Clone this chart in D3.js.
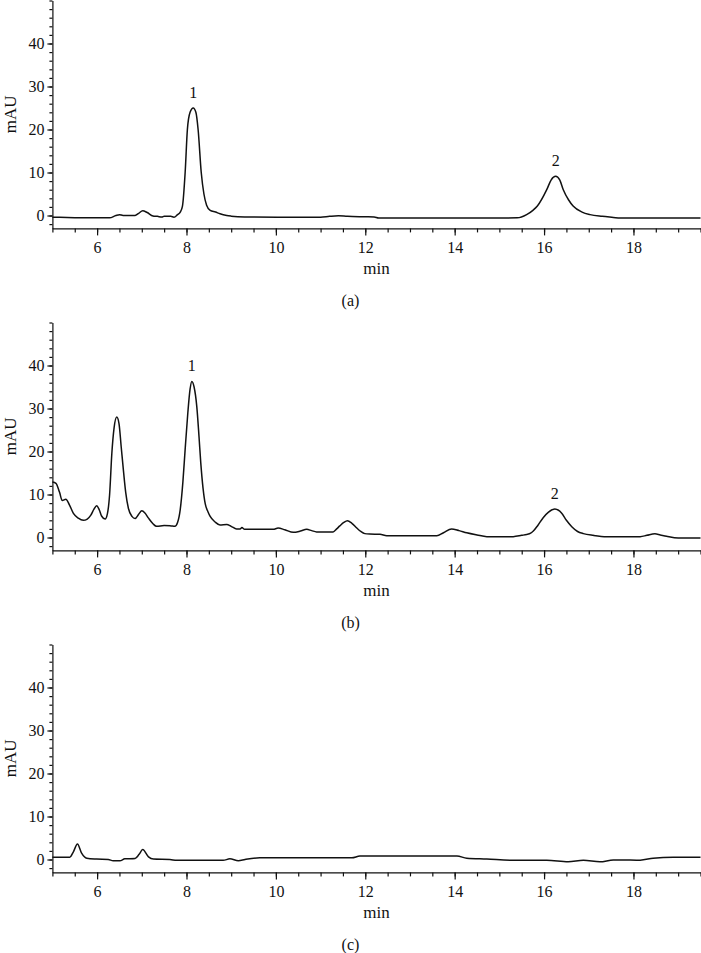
<!DOCTYPE html>
<html>
<head>
<meta charset="utf-8">
<script src="https://cdn.jsdelivr.net/npm/d3@7"></script>
<style>
    body { margin: 0; background: #fff; }
    svg text { font-family: "Liberation Serif", "Times New Roman", "DejaVu Serif", serif; fill: #111; }
</style>
</head>
<body>
<svg id="chart" width="701" height="953" font-family="Liberation Serif, serif"></svg>
<script>
// retention time (min), absorbance (mAU)
const traceA = [
    [5.0, -0.4], [5.5, -0.5], [6.0, -0.55], [6.28, -0.55], [6.42, 0.0], [6.5, 0.2], [6.58, 0.0],
    [6.85, 0.0], [6.93, 0.5], [7.02, 1.1], [7.12, 0.7], [7.25, -0.1], [7.35, -0.2], [7.45, -0.35],
    [7.5, -0.15], [7.65, -0.2], [7.72, -0.4], [7.8, 0.2], [7.86, 0.8], [7.91, 2.2], [7.97, 10],
    [8.02, 20], [8.08, 24], [8.15, 25], [8.21, 24], [8.26, 20], [8.33, 10], [8.39, 5], [8.45, 2.4],
    [8.53, 1.2], [8.65, 0.8], [8.75, 0.4], [8.9, 0.0], [9.0, -0.15], [9.3, -0.35], [10.5, -0.4],
    [11.0, -0.4], [11.2, -0.2], [11.4, -0.07], [11.6, -0.2], [12.0, -0.3], [12.2, -0.35], [12.3, -0.6],
    [15.0, -0.6], [15.4, -0.55], [15.61, 0.2], [15.75, 1.2], [15.85, 2.2], [16.06, 6], [16.16, 8.3],
    [16.26, 9.1], [16.35, 8.3], [16.43, 6], [16.55, 3.6], [16.65, 2.2], [16.85, 0.8], [17.03, 0.2],
    [17.3, -0.2], [17.55, -0.45], [17.7, -0.6], [19.5, -0.6]
];

const traceB = [
    [5.0, 12.9], [5.08, 12.6], [5.16, 10.5], [5.22, 8.6], [5.3, 8.9], [5.38, 7.6], [5.47, 5.6],
    [5.58, 4.5], [5.69, 4.0], [5.78, 4.3], [5.86, 5.2], [5.93, 6.6], [5.99, 7.4], [6.05, 6.4],
    [6.1, 5.0], [6.18, 4.3], [6.23, 5.5], [6.28, 10], [6.33, 19.6], [6.38, 25.5], [6.44, 28.0],
    [6.49, 26.5], [6.54, 21], [6.59, 15.5], [6.64, 10.5], [6.7, 6.8], [6.78, 4.9], [6.85, 4.4],
    [6.93, 5.4], [7.0, 6.2], [7.07, 5.7], [7.15, 4.5], [7.25, 3.2], [7.33, 2.6], [7.5, 2.8],
    [7.65, 2.7], [7.74, 2.6], [7.8, 3.5], [7.86, 6.5], [7.92, 13], [7.97, 20.5], [8.03, 29],
    [8.08, 34.5], [8.12, 36.3], [8.17, 35], [8.23, 30.5], [8.28, 23.5], [8.32, 17.3], [8.37, 11.5],
    [8.42, 7.8], [8.48, 6], [8.53, 4.9], [8.64, 3.6], [8.75, 2.9], [8.9, 3.0], [9.0, 2.6],
    [9.12, 2.0], [9.2, 2.0], [9.24, 2.3], [9.3, 1.9], [9.94, 1.9], [10.05, 2.2], [10.2, 1.8],
    [10.39, 1.2], [10.55, 1.5], [10.69, 1.9], [10.8, 1.6], [10.91, 1.3], [11.28, 1.3], [11.36, 2.0],
    [11.43, 2.7], [11.52, 3.5], [11.6, 3.9], [11.7, 3.3], [11.81, 2.2], [11.9, 1.4], [11.99, 0.9],
    [12.1, 0.8], [12.33, 0.75], [12.48, 0.4], [13.6, 0.4], [13.75, 1.1], [13.93, 2.0], [14.1, 1.6],
    [14.27, 1.1], [14.5, 0.6], [14.72, 0.2], [15.31, 0.2], [15.5, 0.5], [15.61, 0.7], [15.7, 1.0],
    [15.76, 1.5], [15.86, 2.8], [15.98, 4.6], [16.1, 5.9], [16.24, 6.6], [16.39, 5.7], [16.5, 4.0],
    [16.62, 2.5], [16.75, 1.4], [16.88, 0.9], [17.1, 0.5], [17.4, 0.2], [18.15, 0.2], [18.3, 0.5],
    [18.48, 0.85], [18.6, 0.6], [18.74, 0.3], [19.0, -0.1], [19.5, -0.1]
];

const traceC = [
    [5.0, 0.55], [5.39, 0.55], [5.47, 1.8], [5.56, 3.6], [5.65, 1.55], [5.77, 0.3], [5.99, 0.1],
    [6.25, 0.0], [6.36, -0.3], [6.51, -0.3], [6.62, 0.15], [6.85, 0.25], [6.94, 1.2], [7.02, 2.3],
    [7.15, 0.6], [7.26, 0.1], [7.63, 0.0], [7.78, -0.2], [8.82, -0.2], [8.97, 0.15], [9.16, -0.3],
    [9.31, 0.0], [9.64, 0.4], [11.7, 0.4], [11.88, 0.8], [14.05, 0.8], [14.27, 0.3], [14.72, 0.1],
    [15.31, -0.2], [16.06, -0.2], [16.54, -0.55], [16.88, -0.2], [17.25, -0.55], [17.55, -0.1],
    [18.15, -0.15], [18.44, 0.3], [18.89, 0.55], [19.5, 0.55]
];

const peaksA = [{ name: '1', t: 8.15, v: 25 }, { name: '2', t: 16.26, v: 9.1 }];
const peaksB = [{ name: '1', t: 8.12, v: 36.3 }, { name: '2', t: 16.24, v: 6.6 }];
const peaksC = [];

const panelNames = ['(a)', '(b)', '(c)'];
const xMajorTicks = [6, 8, 10, 12, 14, 16, 18];
const yMajorTicks = [0, 10, 20, 30, 40];
const xTitle = 'min';
const yTitle = 'mAU';

/** One chromatogram panel: axes, trace and peak numbers. */
class Panel {
    constructor(svg, trace, peaks, name, top) {
        this.svg = svg;
        this.trace = trace;
        this.peaks = peaks;
        this.name = name;
        this.top = top;

        this.left = 52.4;
        this.right = 700.5;
        this.height = 228.4;

        this.xScale = d3.scaleLinear()
            .domain([5, 19.5])
            .range([this.left, this.right]);

        this.yScale = d3.scaleLinear()
            .domain([-3, 50])
            .range([top + this.height, top + 0.5]);
    }

    draw() {
        this.drawAxes();
        this.drawTrace();
        this.drawLabels();
    }

    drawAxes() {
        let base = this.yScale(-3);

        // minor ticks first, majors on top
        let xMinor = d3.axisBottom(this.xScale)
            .tickValues(d3.range(5, 19.51, 0.5))
            .tickSize(4)
            .tickFormat('');
        this.svg.append('g')
            .attr('transform', `translate(0, ${base})`)
            .call(xMinor)
            .call(g => g.select('.domain').remove());

        let xMajor = d3.axisBottom(this.xScale)
            .tickValues(xMajorTicks)
            .tickSize(7)
            .tickSizeOuter(0)
            .tickPadding(6);
        let gx = this.svg.append('g')
            .attr('transform', `translate(0, ${base})`)
            .call(xMajor);
        gx.selectAll('text').style('font-size', '16px');

        let yMinor = d3.axisLeft(this.yScale)
            .tickValues(d3.range(-2, 50.1, 2))
            .tickSize(3)
            .tickFormat('');
        this.svg.append('g')
            .attr('transform', `translate(${this.left}, 0)`)
            .call(yMinor)
            .call(g => g.select('.domain').remove());

        let yMajor = d3.axisLeft(this.yScale)
            .tickValues(yMajorTicks)
            .tickSize(5)
            .tickSizeOuter(0)
            .tickPadding(3);
        let gy = this.svg.append('g')
            .attr('transform', `translate(${this.left}, 0)`)
            .call(yMajor);
        gy.selectAll('text').style('font-size', '16px');

        this.svg.selectAll('g').attr('font-family', null);
        this.svg.selectAll('.domain, .tick line')
            .attr('stroke', '#111')
            .attr('stroke-width', 1.2);
    }

    drawTrace() {
        let line = d3.line()
            .x(d => this.xScale(d[0]))
            .y(d => this.yScale(d[1]))
            .curve(d3.curveMonotoneX);

        this.svg.append('path')
            .datum(this.trace)
            .attr('d', line)
            .attr('fill', 'none')
            .attr('stroke', '#111')
            .attr('stroke-width', 1.5)
            .attr('stroke-linejoin', 'round');

        this.svg.selectAll(null)
            .data(this.peaks)
            .join('text')
            .attr('x', d => this.xScale(d.t))
            .attr('y', d => this.yScale(d.v) - 10)
            .attr('text-anchor', 'middle')
            .style('font-size', '16px')
            .text(d => d.name);
    }

    drawLabels() {
        let base = this.yScale(-3);
        let mid = (this.yScale(-3) + this.yScale(50)) / 2;

        this.svg.append('text')
            .attr('x', (this.left + this.right) / 2)
            .attr('y', base + 46)
            .attr('text-anchor', 'middle')
            .style('font-size', '17px')
            .text(xTitle);

        this.svg.append('text')
            .attr('transform', `translate(16, ${mid}) rotate(-90)`)
            .attr('text-anchor', 'middle')
            .style('font-size', '17px')
            .text(yTitle);

        this.svg.append('text')
            .attr('x', 350.5)
            .attr('y', base + 78)
            .attr('text-anchor', 'middle')
            .style('font-size', '16px')
            .text(this.name);
    }
}

let svg = d3.select('#chart');
let traces = [traceA, traceB, traceC];
let peaks = [peaksA, peaksB, peaksC];

for (let i = 0; i < 3; i++)
{
    let panel = new Panel(svg, traces[i], peaks[i], panelNames[i], i * 322);
    panel.draw();
}
</script>
</body>
</html>
